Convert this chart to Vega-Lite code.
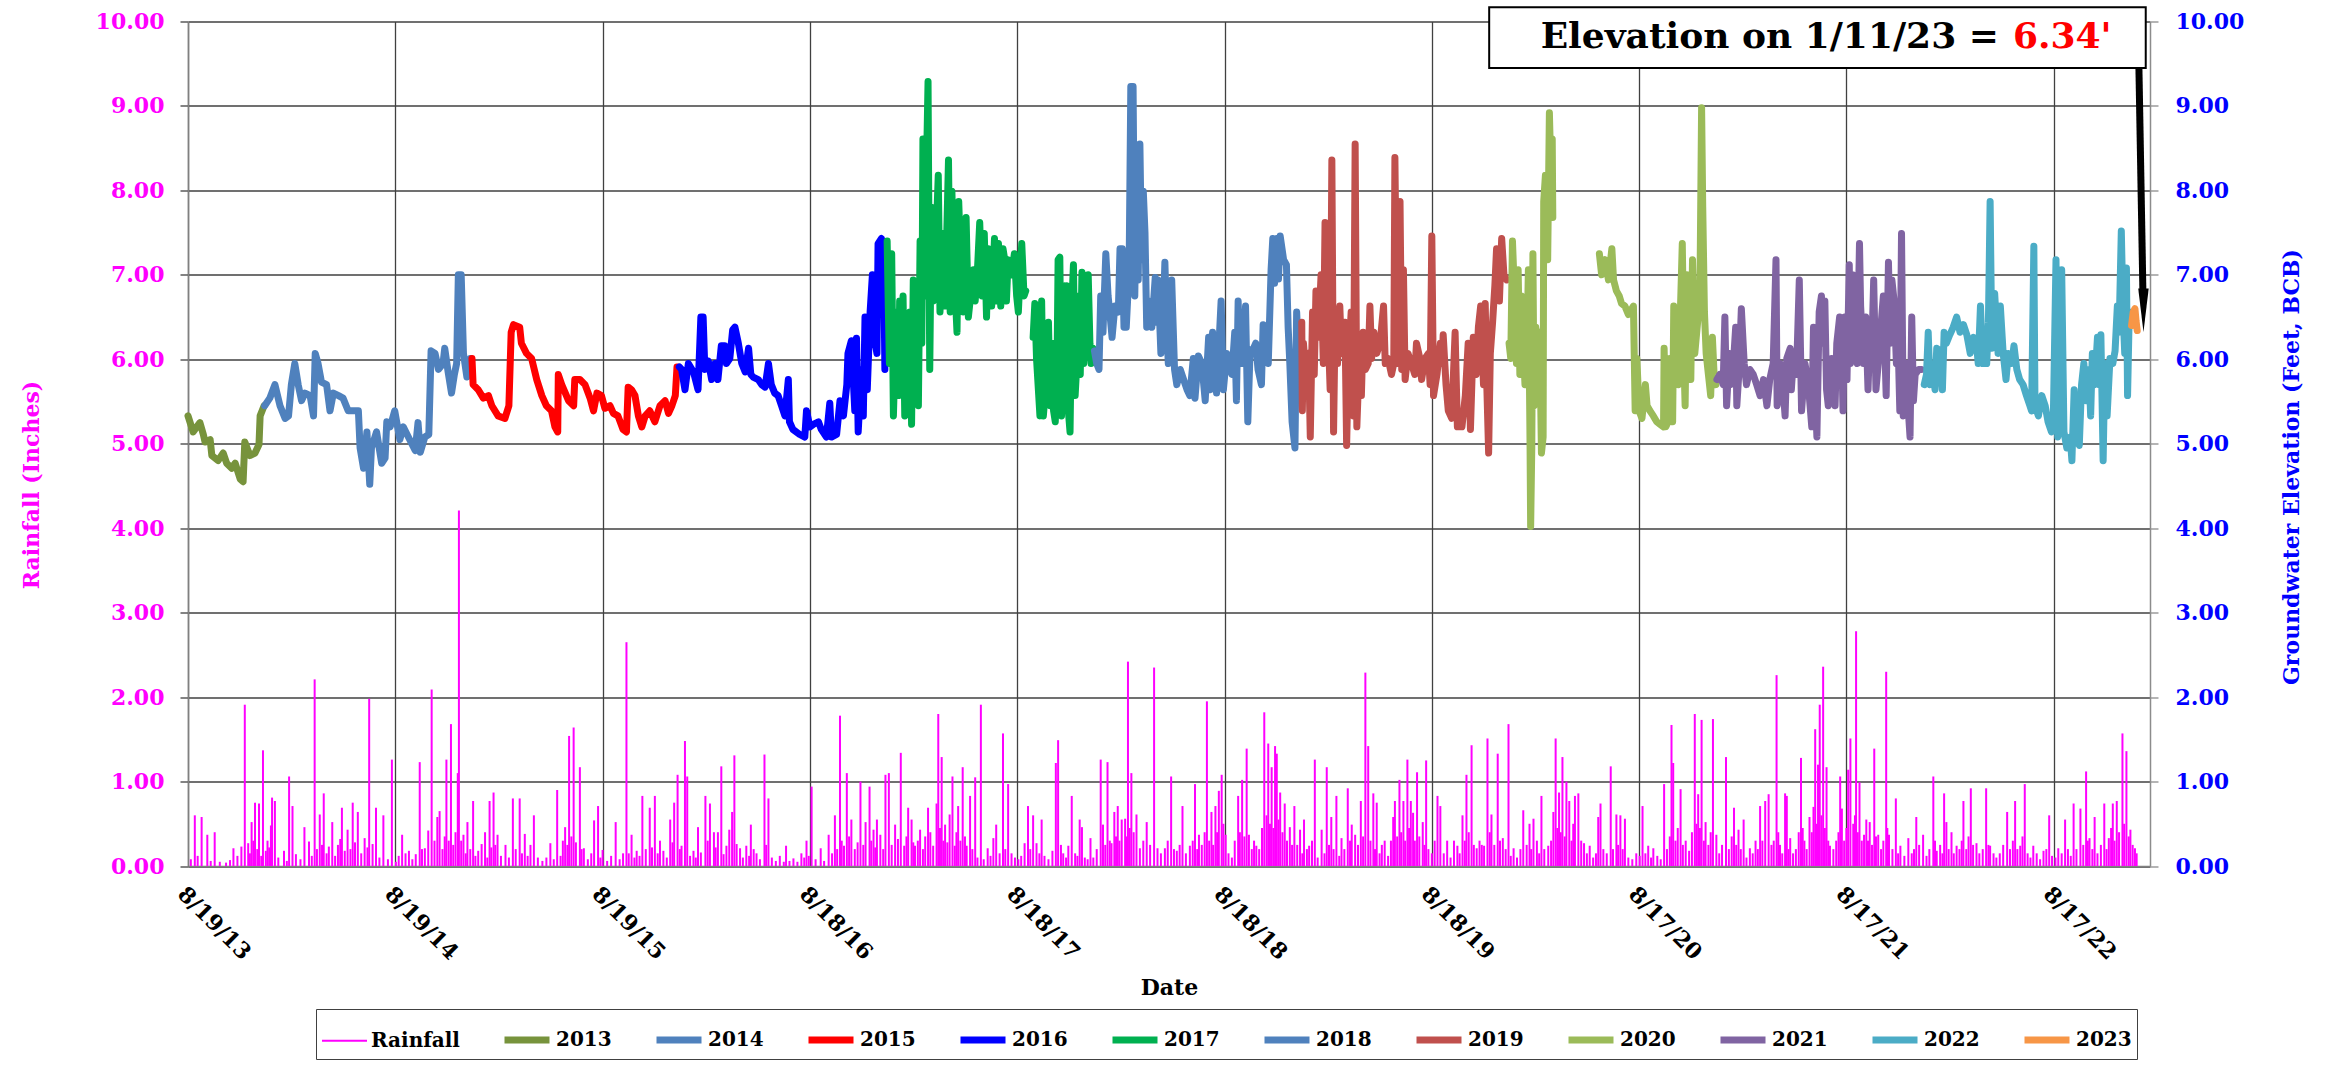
{
"$schema":"https://vega.github.io/schema/vega-lite/v6.json",
"width":1962,"height":844.5,
"autosize":"none",
"padding":{"left":188,"top":21.5,"right":177,"bottom":199},
"background":"white",
"config":{"view":{"stroke":null},"font":"DejaVu Serif",
"axis":{"labelFont":"DejaVu Serif","labelFontWeight":"bold","titleFont":"DejaVu Serif","titleFontWeight":"bold"},
"legend":{"symbolType":"stroke","symbolSize":2025,"labelFontSize":20,"labelFont":"DejaVu Serif","labelFontWeight":"bold","labelColor":"black","labelOffset":3,"columnPadding":30,"padding":5,"strokeColor":"#404040","fillColor":"white","symbolOpacity":1,"labelLimit":300}},
"datasets":{
"rain":[
{"d":"2013-08-24","r":0.08},{"d":"2013-08-31","r":0.6},{"d":"2013-09-05","r":0.12},{"d":"2013-09-12","r":0.58},{"d":"2013-09-22","r":0.37},{"d":"2013-09-28","r":0.06},{"d":"2013-10-05","r":0.4},{"d":"2013-10-14","r":0.05},{"d":"2013-10-25","r":0.04},{"d":"2013-11-01","r":0.07},{"d":"2013-11-07","r":0.21},{"d":"2013-11-14","r":0.12},{"d":"2013-11-21","r":0.23},{"d":"2013-11-27","r":1.91},{"d":"2013-12-03","r":0.27},{"d":"2013-12-06","r":0.15},{"d":"2013-12-09","r":0.52},{"d":"2013-12-12","r":0.3},{"d":"2013-12-15","r":0.75},{"d":"2013-12-19","r":0.2},{"d":"2013-12-22","r":0.74},{"d":"2013-12-26","r":0.12},{"d":"2013-12-29","r":1.37},
{"d":"2014-01-03","r":0.18},{"d":"2014-01-06","r":0.3},{"d":"2014-01-09","r":0.22},{"d":"2014-01-12","r":0.48},{"d":"2014-01-14","r":0.81},{"d":"2014-01-19","r":0.77},{"d":"2014-01-25","r":0.1},{"d":"2014-02-04","r":0.18},{"d":"2014-02-09","r":0.06},{"d":"2014-02-13","r":1.06},{"d":"2014-02-19","r":0.71},{"d":"2014-02-25","r":0.14},{"d":"2014-03-05","r":0.08},{"d":"2014-03-12","r":0.46},{"d":"2014-03-20","r":0.29},{"d":"2014-03-25","r":0.12},{"d":"2014-03-30","r":2.21},{"d":"2014-04-03","r":0.2},{"d":"2014-04-08","r":0.61},{"d":"2014-04-12","r":0.25},{"d":"2014-04-15","r":0.86},{"d":"2014-04-20","r":0.15},{"d":"2014-04-24","r":0.23},{"d":"2014-04-30","r":0.52},{"d":"2014-05-05","r":0.12},{"d":"2014-05-10","r":0.25},{"d":"2014-05-14","r":0.32},{"d":"2014-05-17","r":0.69},{"d":"2014-05-22","r":0.18},{"d":"2014-05-27","r":0.43},{"d":"2014-06-01","r":0.2},{"d":"2014-06-05","r":0.75},{"d":"2014-06-09","r":0.28},{"d":"2014-06-14","r":0.64},{"d":"2014-06-20","r":0.15},{"d":"2014-06-26","r":0.33},{"d":"2014-07-01","r":0.22},{"d":"2014-07-04","r":1.98},{"d":"2014-07-10","r":0.26},{"d":"2014-07-16","r":0.69},{"d":"2014-07-22","r":0.1},{"d":"2014-07-29","r":0.6},{"d":"2014-08-06","r":0.08},{"d":"2014-08-13","r":1.26},{"d":"2014-08-20","r":0.05},{"d":"2014-08-25","r":0.12},{"d":"2014-08-31","r":0.37},{"d":"2014-09-06","r":0.15},{"d":"2014-09-12","r":0.18},{"d":"2014-09-18","r":0.08},{"d":"2014-09-24","r":0.14},{"d":"2014-10-01","r":1.23},{"d":"2014-10-05","r":0.2},{"d":"2014-10-10","r":0.21},{"d":"2014-10-16","r":0.42},{"d":"2014-10-22","r":2.09},{"d":"2014-10-27","r":0.3},{"d":"2014-11-01","r":0.58},{"d":"2014-11-05","r":0.65},{"d":"2014-11-10","r":0.2},{"d":"2014-11-14","r":0.35},{"d":"2014-11-17","r":1.26},{"d":"2014-11-21","r":0.3},{"d":"2014-11-25","r":1.68},{"d":"2014-11-29","r":0.25},{"d":"2014-12-03","r":0.4},{"d":"2014-12-07","r":1.1},{"d":"2014-12-09","r":4.21},{"d":"2014-12-13","r":0.3},{"d":"2014-12-17","r":0.37},{"d":"2014-12-21","r":0.15},{"d":"2014-12-24","r":0.52},{"d":"2014-12-29","r":0.2},
{"d":"2015-01-03","r":0.77},{"d":"2015-01-07","r":0.12},{"d":"2015-01-12","r":0.18},{"d":"2015-01-18","r":0.26},{"d":"2015-01-24","r":0.4},{"d":"2015-01-28","r":0.1},{"d":"2015-02-01","r":0.77},{"d":"2015-02-04","r":0.22},{"d":"2015-02-08","r":0.87},{"d":"2015-02-11","r":0.25},{"d":"2015-02-15","r":0.37},{"d":"2015-02-21","r":0.12},{"d":"2015-03-01","r":0.25},{"d":"2015-03-07","r":0.1},{"d":"2015-03-14","r":0.8},{"d":"2015-03-19","r":0.2},{"d":"2015-03-26","r":0.8},{"d":"2015-03-30","r":0.15},{"d":"2015-04-04","r":0.38},{"d":"2015-04-09","r":0.12},{"d":"2015-04-14","r":0.25},{"d":"2015-04-20","r":0.6},{"d":"2015-04-27","r":0.1},{"d":"2015-05-05","r":0.06},{"d":"2015-05-12","r":0.1},{"d":"2015-05-19","r":0.27},{"d":"2015-05-25","r":0.08},{"d":"2015-05-31","r":0.9},{"d":"2015-06-06","r":0.12},{"d":"2015-06-10","r":0.3},{"d":"2015-06-14","r":0.46},{"d":"2015-06-18","r":0.25},{"d":"2015-06-21","r":1.54},{"d":"2015-06-25","r":0.35},{"d":"2015-06-29","r":1.64},{"d":"2015-07-03","r":0.28},{"d":"2015-07-10","r":1.17},{"d":"2015-07-13","r":0.2},{"d":"2015-07-17","r":0.21},{"d":"2015-07-24","r":0.08},{"d":"2015-07-30","r":0.15},{"d":"2015-08-04","r":0.54},{"d":"2015-08-11","r":0.71},{"d":"2015-08-15","r":0.1},{"d":"2015-08-19","r":0.19},{"d":"2015-08-27","r":0.06},{"d":"2015-09-03","r":0.12},{"d":"2015-09-11","r":0.52},{"d":"2015-09-18","r":0.08},{"d":"2015-09-24","r":0.15},{"d":"2015-09-30","r":2.65},{"d":"2015-10-04","r":0.15},{"d":"2015-10-09","r":0.37},{"d":"2015-10-14","r":0.1},{"d":"2015-10-18","r":0.18},{"d":"2015-10-23","r":0.12},{"d":"2015-10-28","r":0.83},{"d":"2015-11-03","r":0.2},{"d":"2015-11-10","r":0.69},{"d":"2015-11-14","r":0.22},{"d":"2015-11-19","r":0.83},{"d":"2015-11-24","r":0.15},{"d":"2015-11-28","r":0.3},{"d":"2015-12-04","r":0.18},{"d":"2015-12-10","r":0.1},{"d":"2015-12-16","r":0.55},{"d":"2015-12-20","r":0.28},{"d":"2015-12-23","r":0.75},{"d":"2015-12-29","r":1.08},
{"d":"2016-01-02","r":0.2},{"d":"2016-01-05","r":0.24},{"d":"2016-01-11","r":1.48},{"d":"2016-01-15","r":1.06},{"d":"2016-01-20","r":0.12},{"d":"2016-01-26","r":0.18},{"d":"2016-01-30","r":0.1},{"d":"2016-02-03","r":0.46},{"d":"2016-02-08","r":0.16},{"d":"2016-02-16","r":0.83},{"d":"2016-02-20","r":0.3},{"d":"2016-02-24","r":0.74},{"d":"2016-03-02","r":0.4},{"d":"2016-03-05","r":0.22},{"d":"2016-03-09","r":0.4},{"d":"2016-03-15","r":1.18},{"d":"2016-03-19","r":0.14},{"d":"2016-03-24","r":0.24},{"d":"2016-03-29","r":0.43},{"d":"2016-04-03","r":0.64},{"d":"2016-04-07","r":1.31},{"d":"2016-04-11","r":0.26},{"d":"2016-04-17","r":0.21},{"d":"2016-04-22","r":0.1},{"d":"2016-04-28","r":0.24},{"d":"2016-05-03","r":0.12},{"d":"2016-05-06","r":0.49},{"d":"2016-05-11","r":0.2},{"d":"2016-05-16","r":0.15},{"d":"2016-05-22","r":0.08},{"d":"2016-05-30","r":1.32},{"d":"2016-06-02","r":0.25},{"d":"2016-06-06","r":0.8},{"d":"2016-06-12","r":0.1},{"d":"2016-06-19","r":0.06},{"d":"2016-06-26","r":0.12},{"d":"2016-07-03","r":0.05},{"d":"2016-07-07","r":0.24},{"d":"2016-07-13","r":0.06},{"d":"2016-07-20","r":0.09},{"d":"2016-07-27","r":0.05},{"d":"2016-08-03","r":0.15},{"d":"2016-08-08","r":0.1},{"d":"2016-08-12","r":0.3},{"d":"2016-08-16","r":0.12},{"d":"2016-08-21","r":0.94},{"d":"2016-08-28","r":0.08},{"d":"2016-09-06","r":0.21},{"d":"2016-09-12","r":0.06},{"d":"2016-09-20","r":0.37},{"d":"2016-09-26","r":0.15},{"d":"2016-10-01","r":0.6},{"d":"2016-10-05","r":0.2},{"d":"2016-10-10","r":1.78},{"d":"2016-10-13","r":0.3},{"d":"2016-10-17","r":0.24},{"d":"2016-10-22","r":1.1},{"d":"2016-10-26","r":0.35},{"d":"2016-10-30","r":0.55},{"d":"2016-11-05","r":0.2},{"d":"2016-11-10","r":0.28},{"d":"2016-11-15","r":1.0},{"d":"2016-11-20","r":0.25},{"d":"2016-11-24","r":0.52},{"d":"2016-12-01","r":0.94},{"d":"2016-12-04","r":0.3},{"d":"2016-12-08","r":0.43},{"d":"2016-12-11","r":0.22},{"d":"2016-12-14","r":0.55},{"d":"2016-12-20","r":0.37},{"d":"2016-12-25","r":0.2},{"d":"2016-12-29","r":1.08},
{"d":"2017-01-04","r":1.1},{"d":"2017-01-09","r":0.25},{"d":"2017-01-15","r":0.49},{"d":"2017-01-20","r":0.32},{"d":"2017-01-25","r":1.34},{"d":"2017-01-31","r":0.24},{"d":"2017-02-04","r":0.35},{"d":"2017-02-07","r":0.69},{"d":"2017-02-13","r":0.55},{"d":"2017-02-16","r":0.28},{"d":"2017-02-19","r":0.24},{"d":"2017-02-24","r":0.3},{"d":"2017-02-28","r":0.43},{"d":"2017-03-05","r":0.2},{"d":"2017-03-09","r":0.35},{"d":"2017-03-14","r":0.69},{"d":"2017-03-18","r":0.4},{"d":"2017-03-23","r":0.24},{"d":"2017-03-29","r":0.74},{"d":"2017-04-01","r":1.8},{"d":"2017-04-04","r":0.45},{"d":"2017-04-07","r":1.29},{"d":"2017-04-10","r":0.3},{"d":"2017-04-13","r":0.49},{"d":"2017-04-17","r":0.28},{"d":"2017-04-21","r":0.61},{"d":"2017-04-26","r":1.06},{"d":"2017-04-30","r":0.24},{"d":"2017-05-03","r":0.4},{"d":"2017-05-06","r":0.71},{"d":"2017-05-10","r":0.3},{"d":"2017-05-14","r":1.17},{"d":"2017-05-18","r":0.35},{"d":"2017-05-21","r":0.24},{"d":"2017-05-27","r":0.83},{"d":"2017-05-31","r":0.2},{"d":"2017-06-05","r":1.05},{"d":"2017-06-09","r":0.1},{"d":"2017-06-15","r":1.91},{"d":"2017-06-20","r":0.08},{"d":"2017-06-27","r":0.21},{"d":"2017-07-02","r":0.12},{"d":"2017-07-07","r":0.33},{"d":"2017-07-12","r":0.49},{"d":"2017-07-18","r":0.15},{"d":"2017-07-24","r":1.57},{"d":"2017-07-28","r":0.2},{"d":"2017-08-02","r":0.97},{"d":"2017-08-08","r":0.15},{"d":"2017-08-14","r":0.1},{"d":"2017-08-20","r":0.08},{"d":"2017-08-25","r":0.12},{"d":"2017-08-31","r":0.27},{"d":"2017-09-06","r":0.71},{"d":"2017-09-10","r":0.2},{"d":"2017-09-15","r":0.6},{"d":"2017-09-21","r":0.27},{"d":"2017-09-26","r":0.15},{"d":"2017-09-30","r":0.55},{"d":"2017-10-05","r":0.12},{"d":"2017-10-12","r":0.08},{"d":"2017-10-19","r":0.18},{"d":"2017-10-25","r":1.22},{"d":"2017-10-29","r":1.49},{"d":"2017-11-03","r":0.25},{"d":"2017-11-07","r":0.15},{"d":"2017-11-12","r":0.1},{"d":"2017-11-16","r":0.24},{"d":"2017-11-22","r":0.83},{"d":"2017-11-28","r":0.15},{"d":"2017-12-02","r":0.12},{"d":"2017-12-06","r":0.55},{"d":"2017-12-10","r":0.46},{"d":"2017-12-15","r":0.1},{"d":"2017-12-20","r":0.08},{"d":"2017-12-25","r":0.33},{"d":"2017-12-30","r":0.1},
{"d":"2018-01-05","r":0.2},{"d":"2018-01-12","r":1.26},{"d":"2018-01-16","r":0.49},{"d":"2018-01-20","r":0.25},{"d":"2018-01-24","r":1.23},{"d":"2018-01-28","r":0.3},{"d":"2018-01-31","r":0.27},{"d":"2018-02-05","r":0.64},{"d":"2018-02-08","r":0.35},{"d":"2018-02-11","r":0.71},{"d":"2018-02-14","r":0.3},{"d":"2018-02-18","r":0.55},{"d":"2018-02-24","r":0.56},{"d":"2018-02-27","r":0.35},{"d":"2018-03-01","r":2.42},{"d":"2018-03-04","r":0.45},{"d":"2018-03-07","r":1.1},{"d":"2018-03-11","r":0.4},{"d":"2018-03-16","r":0.61},{"d":"2018-03-22","r":0.21},{"d":"2018-03-28","r":0.3},{"d":"2018-04-03","r":0.52},{"d":"2018-04-09","r":0.25},{"d":"2018-04-16","r":2.35},{"d":"2018-04-22","r":0.21},{"d":"2018-04-28","r":0.15},{"d":"2018-05-05","r":0.21},{"d":"2018-05-10","r":0.3},{"d":"2018-05-16","r":1.06},{"d":"2018-05-21","r":0.2},{"d":"2018-05-26","r":0.18},{"d":"2018-05-31","r":0.25},{"d":"2018-06-05","r":0.71},{"d":"2018-06-11","r":0.15},{"d":"2018-06-18","r":0.24},{"d":"2018-06-23","r":0.3},{"d":"2018-06-27","r":0.97},{"d":"2018-07-01","r":0.2},{"d":"2018-07-04","r":0.37},{"d":"2018-07-09","r":0.25},{"d":"2018-07-14","r":0.4},{"d":"2018-07-18","r":1.95},{"d":"2018-07-22","r":0.3},{"d":"2018-07-26","r":0.64},{"d":"2018-07-29","r":0.25},{"d":"2018-08-02","r":0.71},{"d":"2018-08-05","r":0.4},{"d":"2018-08-08","r":0.89},{"d":"2018-08-13","r":1.08},{"d":"2018-08-16","r":0.5},{"d":"2018-08-20","r":0.37},{"d":"2018-08-25","r":0.15},{"d":"2018-08-31","r":0.1},{"d":"2018-09-05","r":0.3},{"d":"2018-09-11","r":0.83},{"d":"2018-09-14","r":0.4},{"d":"2018-09-18","r":1.02},{"d":"2018-09-22","r":0.35},{"d":"2018-09-26","r":1.39},{"d":"2018-09-30","r":0.37},{"d":"2018-10-05","r":0.2},{"d":"2018-10-09","r":0.3},{"d":"2018-10-13","r":0.24},{"d":"2018-10-18","r":0.2},{"d":"2018-10-23","r":0.45},{"d":"2018-10-27","r":1.82},{"d":"2018-10-31","r":0.6},{"d":"2018-11-03","r":1.45},{"d":"2018-11-06","r":0.5},{"d":"2018-11-09","r":1.17},{"d":"2018-11-12","r":0.45},{"d":"2018-11-15","r":1.42},{"d":"2018-11-18","r":1.33},{"d":"2018-11-21","r":0.55},{"d":"2018-11-24","r":0.87},{"d":"2018-11-28","r":0.4},{"d":"2018-12-02","r":0.74},{"d":"2018-12-06","r":0.3},{"d":"2018-12-11","r":0.46},{"d":"2018-12-15","r":0.25},{"d":"2018-12-19","r":0.71},{"d":"2018-12-24","r":0.25},{"d":"2018-12-29","r":0.43},
{"d":"2019-01-02","r":0.15},{"d":"2019-01-05","r":0.55},{"d":"2019-01-10","r":0.2},{"d":"2019-01-14","r":0.24},{"d":"2019-01-19","r":0.3},{"d":"2019-01-24","r":1.26},{"d":"2019-01-29","r":0.1},{"d":"2019-02-05","r":0.43},{"d":"2019-02-10","r":0.15},{"d":"2019-02-14","r":1.17},{"d":"2019-02-18","r":0.25},{"d":"2019-02-22","r":0.58},{"d":"2019-02-26","r":0.2},{"d":"2019-03-03","r":0.83},{"d":"2019-03-08","r":0.12},{"d":"2019-03-12","r":0.33},{"d":"2019-03-17","r":0.2},{"d":"2019-03-23","r":0.92},{"d":"2019-03-27","r":0.3},{"d":"2019-03-30","r":0.49},{"d":"2019-04-05","r":0.37},{"d":"2019-04-10","r":0.25},{"d":"2019-04-15","r":0.77},{"d":"2019-04-19","r":0.35},{"d":"2019-04-23","r":2.29},{"d":"2019-04-28","r":1.42},{"d":"2019-05-02","r":0.3},{"d":"2019-05-07","r":0.86},{"d":"2019-05-10","r":0.2},{"d":"2019-05-13","r":0.75},{"d":"2019-05-18","r":0.15},{"d":"2019-05-22","r":0.25},{"d":"2019-05-27","r":0.3},{"d":"2019-06-02","r":0.12},{"d":"2019-06-07","r":0.3},{"d":"2019-06-11","r":0.58},{"d":"2019-06-14","r":0.77},{"d":"2019-06-18","r":0.35},{"d":"2019-06-22","r":1.02},{"d":"2019-06-25","r":0.4},{"d":"2019-06-29","r":0.77},{"d":"2019-07-02","r":0.3},{"d":"2019-07-06","r":1.26},{"d":"2019-07-09","r":0.45},{"d":"2019-07-12","r":0.77},{"d":"2019-07-16","r":0.63},{"d":"2019-07-19","r":0.3},{"d":"2019-07-23","r":1.11},{"d":"2019-07-27","r":0.35},{"d":"2019-08-02","r":0.52},{"d":"2019-08-05","r":0.25},{"d":"2019-08-08","r":1.25},{"d":"2019-08-12","r":0.2},{"d":"2019-08-18","r":0.15},{"d":"2019-08-23","r":0.3},{"d":"2019-08-28","r":0.83},{"d":"2019-09-02","r":0.71},{"d":"2019-09-08","r":0.15},{"d":"2019-09-14","r":0.3},{"d":"2019-09-20","r":0.1},{"d":"2019-09-26","r":0.3},{"d":"2019-10-02","r":0.24},{"d":"2019-10-06","r":0.15},{"d":"2019-10-11","r":0.6},{"d":"2019-10-15","r":0.3},{"d":"2019-10-18","r":1.08},{"d":"2019-10-22","r":0.4},{"d":"2019-10-27","r":1.43},{"d":"2019-10-31","r":0.25},{"d":"2019-11-05","r":0.21},{"d":"2019-11-10","r":0.3},{"d":"2019-11-14","r":0.25},{"d":"2019-11-18","r":0.24},{"d":"2019-11-24","r":1.51},{"d":"2019-11-28","r":0.4},{"d":"2019-12-01","r":0.61},{"d":"2019-12-06","r":0.25},{"d":"2019-12-12","r":1.33},{"d":"2019-12-16","r":0.3},{"d":"2019-12-21","r":0.33},{"d":"2019-12-26","r":0.2},{"d":"2019-12-31","r":1.68},
{"d":"2020-01-04","r":0.12},{"d":"2020-01-09","r":0.21},{"d":"2020-01-15","r":0.1},{"d":"2020-01-21","r":0.2},{"d":"2020-01-26","r":0.66},{"d":"2020-02-01","r":0.25},{"d":"2020-02-06","r":0.5},{"d":"2020-02-09","r":0.2},{"d":"2020-02-13","r":0.56},{"d":"2020-02-19","r":0.3},{"d":"2020-02-23","r":0.15},{"d":"2020-02-27","r":0.83},{"d":"2020-03-03","r":0.2},{"d":"2020-03-10","r":0.24},{"d":"2020-03-15","r":0.3},{"d":"2020-03-19","r":0.64},{"d":"2020-03-23","r":1.51},{"d":"2020-03-26","r":0.45},{"d":"2020-03-29","r":0.87},{"d":"2020-04-01","r":0.4},{"d":"2020-04-04","r":1.29},{"d":"2020-04-08","r":0.35},{"d":"2020-04-11","r":1.0},{"d":"2020-04-16","r":0.77},{"d":"2020-04-20","r":0.3},{"d":"2020-04-23","r":0.5},{"d":"2020-04-26","r":0.83},{"d":"2020-05-02","r":0.86},{"d":"2020-05-07","r":0.3},{"d":"2020-05-12","r":0.27},{"d":"2020-05-17","r":0.15},{"d":"2020-05-22","r":0.24},{"d":"2020-05-28","r":0.1},{"d":"2020-06-02","r":0.15},{"d":"2020-06-06","r":0.58},{"d":"2020-06-10","r":0.74},{"d":"2020-06-15","r":0.2},{"d":"2020-06-21","r":0.15},{"d":"2020-06-28","r":1.18},{"d":"2020-07-02","r":0.2},{"d":"2020-07-08","r":0.61},{"d":"2020-07-11","r":0.25},{"d":"2020-07-15","r":0.6},{"d":"2020-07-19","r":0.2},{"d":"2020-07-23","r":0.56},{"d":"2020-07-29","r":0.1},{"d":"2020-08-05","r":0.08},{"d":"2020-08-12","r":0.15},{"d":"2020-08-18","r":0.12},{"d":"2020-08-23","r":0.71},{"d":"2020-08-28","r":0.15},{"d":"2020-09-02","r":0.24},{"d":"2020-09-07","r":0.1},{"d":"2020-09-11","r":0.21},{"d":"2020-09-18","r":0.12},{"d":"2020-09-24","r":0.08},{"d":"2020-09-30","r":0.97},{"d":"2020-10-05","r":0.2},{"d":"2020-10-10","r":0.35},{"d":"2020-10-13","r":1.67},{"d":"2020-10-16","r":1.22},{"d":"2020-10-20","r":0.3},{"d":"2020-10-24","r":0.45},{"d":"2020-10-29","r":0.91},{"d":"2020-11-02","r":0.25},{"d":"2020-11-07","r":0.3},{"d":"2020-11-13","r":0.18},{"d":"2020-11-18","r":0.4},{"d":"2020-11-23","r":1.8},{"d":"2020-11-26","r":0.5},{"d":"2020-11-29","r":0.85},{"d":"2020-12-02","r":0.45},{"d":"2020-12-05","r":1.73},{"d":"2020-12-09","r":0.3},{"d":"2020-12-12","r":0.52},{"d":"2020-12-17","r":0.25},{"d":"2020-12-21","r":0.4},{"d":"2020-12-25","r":1.74},{"d":"2020-12-31","r":0.37},
{"d":"2021-01-05","r":0.15},{"d":"2021-01-10","r":0.25},{"d":"2021-01-17","r":1.29},{"d":"2021-01-22","r":0.2},{"d":"2021-01-27","r":0.35},{"d":"2021-01-31","r":0.69},{"d":"2021-02-04","r":0.25},{"d":"2021-02-08","r":0.43},{"d":"2021-02-12","r":0.2},{"d":"2021-02-17","r":0.55},{"d":"2021-02-22","r":0.1},{"d":"2021-02-28","r":0.21},{"d":"2021-03-05","r":0.15},{"d":"2021-03-10","r":0.3},{"d":"2021-03-14","r":0.2},{"d":"2021-03-18","r":0.71},{"d":"2021-03-22","r":0.3},{"d":"2021-03-27","r":0.77},{"d":"2021-04-02","r":0.85},{"d":"2021-04-07","r":0.25},{"d":"2021-04-11","r":0.3},{"d":"2021-04-16","r":2.26},{"d":"2021-04-19","r":0.4},{"d":"2021-04-22","r":0.25},{"d":"2021-04-26","r":0.15},{"d":"2021-05-01","r":0.86},{"d":"2021-05-04","r":0.83},{"d":"2021-05-07","r":0.2},{"d":"2021-05-10","r":0.33},{"d":"2021-05-15","r":0.15},{"d":"2021-05-20","r":0.2},{"d":"2021-05-25","r":0.4},{"d":"2021-05-29","r":1.28},{"d":"2021-06-01","r":0.45},{"d":"2021-06-04","r":0.3},{"d":"2021-06-08","r":0.2},{"d":"2021-06-13","r":0.58},{"d":"2021-06-17","r":0.4},{"d":"2021-06-20","r":0.7},{"d":"2021-06-23","r":1.62},{"d":"2021-06-26","r":0.5},{"d":"2021-06-28","r":1.2},{"d":"2021-07-01","r":1.91},{"d":"2021-07-04","r":0.6},{"d":"2021-07-07","r":2.36},{"d":"2021-07-10","r":0.45},{"d":"2021-07-13","r":1.17},{"d":"2021-07-16","r":0.3},{"d":"2021-07-19","r":0.24},{"d":"2021-07-25","r":0.2},{"d":"2021-07-30","r":0.3},{"d":"2021-08-03","r":0.4},{"d":"2021-08-06","r":1.06},{"d":"2021-08-09","r":0.68},{"d":"2021-08-13","r":0.3},{"d":"2021-08-17","r":0.45},{"d":"2021-08-20","r":1.14},{"d":"2021-08-24","r":1.51},{"d":"2021-08-29","r":0.5},{"d":"2021-09-01","r":0.6},{"d":"2021-09-03","r":2.78},{"d":"2021-09-06","r":0.4},{"d":"2021-09-09","r":0.99},{"d":"2021-09-13","r":0.3},{"d":"2021-09-17","r":0.37},{"d":"2021-09-21","r":0.55},{"d":"2021-09-24","r":0.3},{"d":"2021-09-27","r":0.52},{"d":"2021-10-01","r":0.25},{"d":"2021-10-05","r":1.39},{"d":"2021-10-08","r":0.35},{"d":"2021-10-12","r":0.37},{"d":"2021-10-17","r":0.2},{"d":"2021-10-21","r":0.3},{"d":"2021-10-26","r":2.3},{"d":"2021-10-28","r":0.45},{"d":"2021-10-31","r":0.37},{"d":"2021-11-06","r":0.2},{"d":"2021-11-12","r":0.8},{"d":"2021-11-16","r":0.15},{"d":"2021-11-20","r":0.24},{"d":"2021-11-27","r":0.12},{"d":"2021-12-04","r":0.33},{"d":"2021-12-10","r":0.15},{"d":"2021-12-14","r":0.2},{"d":"2021-12-18","r":0.58},{"d":"2021-12-23","r":0.25},{"d":"2021-12-30","r":0.37},
{"d":"2022-01-05","r":0.12},{"d":"2022-01-10","r":0.2},{"d":"2022-01-17","r":1.06},{"d":"2022-01-20","r":0.3},{"d":"2022-01-23","r":0.18},{"d":"2022-01-29","r":0.25},{"d":"2022-02-02","r":0.15},{"d":"2022-02-05","r":0.86},{"d":"2022-02-09","r":0.52},{"d":"2022-02-13","r":0.2},{"d":"2022-02-18","r":0.4},{"d":"2022-02-22","r":0.15},{"d":"2022-02-27","r":0.24},{"d":"2022-03-04","r":0.2},{"d":"2022-03-08","r":0.3},{"d":"2022-03-11","r":0.77},{"d":"2022-03-16","r":0.2},{"d":"2022-03-20","r":0.35},{"d":"2022-03-24","r":0.92},{"d":"2022-03-28","r":0.25},{"d":"2022-04-03","r":0.27},{"d":"2022-04-08","r":0.15},{"d":"2022-04-14","r":0.2},{"d":"2022-04-20","r":0.92},{"d":"2022-04-24","r":0.25},{"d":"2022-04-27","r":0.24},{"d":"2022-05-03","r":0.15},{"d":"2022-05-08","r":0.1},{"d":"2022-05-14","r":0.15},{"d":"2022-05-20","r":0.25},{"d":"2022-05-27","r":0.64},{"d":"2022-06-01","r":0.2},{"d":"2022-06-06","r":0.3},{"d":"2022-06-10","r":0.77},{"d":"2022-06-14","r":0.2},{"d":"2022-06-19","r":0.24},{"d":"2022-06-23","r":0.35},{"d":"2022-06-27","r":0.97},{"d":"2022-07-02","r":0.15},{"d":"2022-07-07","r":0.1},{"d":"2022-07-12","r":0.24},{"d":"2022-07-18","r":0.15},{"d":"2022-07-24","r":0.08},{"d":"2022-07-30","r":0.18},{"d":"2022-08-04","r":0.2},{"d":"2022-08-09","r":0.6},{"d":"2022-08-14","r":0.12},{"d":"2022-08-20","r":0.1},{"d":"2022-08-25","r":0.21},{"d":"2022-08-31","r":0.15},{"d":"2022-09-06","r":0.55},{"d":"2022-09-11","r":0.2},{"d":"2022-09-16","r":0.12},{"d":"2022-09-21","r":0.74},{"d":"2022-09-26","r":0.2},{"d":"2022-10-03","r":0.68},{"d":"2022-10-08","r":0.25},{"d":"2022-10-13","r":1.12},{"d":"2022-10-16","r":0.3},{"d":"2022-10-19","r":0.33},{"d":"2022-10-24","r":0.2},{"d":"2022-10-28","r":0.58},{"d":"2022-11-02","r":0.15},{"d":"2022-11-08","r":0.25},{"d":"2022-11-14","r":0.74},{"d":"2022-11-18","r":0.2},{"d":"2022-11-22","r":0.33},{"d":"2022-11-26","r":0.45},{"d":"2022-11-29","r":0.74},{"d":"2022-12-02","r":0.3},{"d":"2022-12-06","r":0.77},{"d":"2022-12-10","r":0.4},{"d":"2022-12-16","r":1.57},{"d":"2022-12-19","r":0.5},{"d":"2022-12-23","r":1.36},{"d":"2022-12-27","r":0.35},{"d":"2022-12-30","r":0.43},{"d":"2023-01-03","r":0.25},{"d":"2023-01-07","r":0.21},{"d":"2023-01-10","r":0.15}
],
"gw":[
{"d":"2013-08-19","s":"2013","v":5.33},{"d":"2013-08-28","s":"2013","v":5.14},{"d":"2013-09-09","s":"2013","v":5.25},{"d":"2013-09-15","s":"2013","v":5.11},{"d":"2013-09-18","s":"2013","v":5.02},{"d":"2013-09-27","s":"2013","v":5.05},{"d":"2013-09-30","s":"2013","v":4.86},{"d":"2013-10-11","s":"2013","v":4.8},{"d":"2013-10-20","s":"2013","v":4.89},{"d":"2013-10-26","s":"2013","v":4.77},{"d":"2013-11-04","s":"2013","v":4.71},{"d":"2013-11-10","s":"2013","v":4.77},{"d":"2013-11-19","s":"2013","v":4.58},{"d":"2013-11-24","s":"2013","v":4.55},{"d":"2013-11-27","s":"2013","v":5.02},{"d":"2013-12-06","s":"2013","v":4.86},{"d":"2013-12-15","s":"2013","v":4.89},{"d":"2013-12-22","s":"2013","v":4.99},{"d":"2013-12-24","s":"2013","v":5.33},{"d":"2013-12-31","s":"2013","v":5.45},
{"d":"2014-01-01","s":"2014","v":5.45},{"d":"2014-01-10","s":"2014","v":5.54},{"d":"2014-01-19","s":"2014","v":5.7},{"d":"2014-01-28","s":"2014","v":5.45},{"d":"2014-02-06","s":"2014","v":5.3},{"d":"2014-02-12","s":"2014","v":5.33},{"d":"2014-02-17","s":"2014","v":5.7},{"d":"2014-02-23","s":"2014","v":5.95},{"d":"2014-03-01","s":"2014","v":5.7},{"d":"2014-03-07","s":"2014","v":5.51},{"d":"2014-03-13","s":"2014","v":5.6},{"d":"2014-03-22","s":"2014","v":5.57},{"d":"2014-03-28","s":"2014","v":5.33},{"d":"2014-03-31","s":"2014","v":6.07},{"d":"2014-04-05","s":"2014","v":5.95},{"d":"2014-04-11","s":"2014","v":5.73},{"d":"2014-04-20","s":"2014","v":5.7},{"d":"2014-04-26","s":"2014","v":5.39},{"d":"2014-05-02","s":"2014","v":5.6},{"d":"2014-05-11","s":"2014","v":5.57},{"d":"2014-05-19","s":"2014","v":5.54},{"d":"2014-05-28","s":"2014","v":5.39},{"d":"2014-06-06","s":"2014","v":5.39},{"d":"2014-06-15","s":"2014","v":5.39},{"d":"2014-06-18","s":"2014","v":4.95},{"d":"2014-06-24","s":"2014","v":4.71},{"d":"2014-06-30","s":"2014","v":5.14},{"d":"2014-07-05","s":"2014","v":4.52},{"d":"2014-07-08","s":"2014","v":4.95},{"d":"2014-07-17","s":"2014","v":5.14},{"d":"2014-07-26","s":"2014","v":4.77},{"d":"2014-08-01","s":"2014","v":4.83},{"d":"2014-08-04","s":"2014","v":5.26},{"d":"2014-08-10","s":"2014","v":5.2},{"d":"2014-08-18","s":"2014","v":5.39},{"d":"2014-08-27","s":"2014","v":5.05},{"d":"2014-09-02","s":"2014","v":5.2},{"d":"2014-09-11","s":"2014","v":5.08},{"d":"2014-09-23","s":"2014","v":4.92},{"d":"2014-09-28","s":"2014","v":5.25},{"d":"2014-10-02","s":"2014","v":4.9},{"d":"2014-10-10","s":"2014","v":5.08},{"d":"2014-10-17","s":"2014","v":5.11},{"d":"2014-10-21","s":"2014","v":6.1},{"d":"2014-10-28","s":"2014","v":6.07},{"d":"2014-11-03","s":"2014","v":5.88},{"d":"2014-11-11","s":"2014","v":5.95},{"d":"2014-11-14","s":"2014","v":6.13},{"d":"2014-11-20","s":"2014","v":5.85},{"d":"2014-11-26","s":"2014","v":5.6},{"d":"2014-12-01","s":"2014","v":5.82},{"d":"2014-12-05","s":"2014","v":5.95},{"d":"2014-12-08","s":"2014","v":7.0},{"d":"2014-12-13","s":"2014","v":7.0},{"d":"2014-12-17","s":"2014","v":6.07},{"d":"2014-12-23","s":"2014","v":5.79},{"d":"2014-12-29","s":"2014","v":6.01},
{"d":"2015-01-01","s":"2015","v":6.01},{"d":"2015-01-03","s":"2015","v":5.7},{"d":"2015-01-12","s":"2015","v":5.64},{"d":"2015-01-21","s":"2015","v":5.54},{"d":"2015-01-30","s":"2015","v":5.57},{"d":"2015-02-05","s":"2015","v":5.45},{"d":"2015-02-16","s":"2015","v":5.33},{"d":"2015-02-28","s":"2015","v":5.3},{"d":"2015-03-07","s":"2015","v":5.45},{"d":"2015-03-11","s":"2015","v":6.32},{"d":"2015-03-15","s":"2015","v":6.41},{"d":"2015-03-26","s":"2015","v":6.38},{"d":"2015-03-29","s":"2015","v":6.19},{"d":"2015-04-07","s":"2015","v":6.07},{"d":"2015-04-16","s":"2015","v":6.01},{"d":"2015-04-25","s":"2015","v":5.76},{"d":"2015-05-04","s":"2015","v":5.57},{"d":"2015-05-12","s":"2015","v":5.45},{"d":"2015-05-21","s":"2015","v":5.39},{"d":"2015-05-27","s":"2015","v":5.2},{"d":"2015-06-01","s":"2015","v":5.14},{"d":"2015-06-02","s":"2015","v":5.82},{"d":"2015-06-08","s":"2015","v":5.7},{"d":"2015-06-20","s":"2015","v":5.51},{"d":"2015-06-29","s":"2015","v":5.45},{"d":"2015-07-01","s":"2015","v":5.76},{"d":"2015-07-10","s":"2015","v":5.76},{"d":"2015-07-19","s":"2015","v":5.7},{"d":"2015-07-28","s":"2015","v":5.54},{"d":"2015-08-03","s":"2015","v":5.39},{"d":"2015-08-09","s":"2015","v":5.6},{"d":"2015-08-17","s":"2015","v":5.57},{"d":"2015-08-23","s":"2015","v":5.42},{"d":"2015-09-01","s":"2015","v":5.45},{"d":"2015-09-07","s":"2015","v":5.36},{"d":"2015-09-15","s":"2015","v":5.33},{"d":"2015-09-24","s":"2015","v":5.17},{"d":"2015-09-30","s":"2015","v":5.14},{"d":"2015-10-03","s":"2015","v":5.67},{"d":"2015-10-09","s":"2015","v":5.64},{"d":"2015-10-15","s":"2015","v":5.57},{"d":"2015-10-21","s":"2015","v":5.33},{"d":"2015-10-27","s":"2015","v":5.2},{"d":"2015-11-02","s":"2015","v":5.33},{"d":"2015-11-10","s":"2015","v":5.39},{"d":"2015-11-19","s":"2015","v":5.26},{"d":"2015-11-28","s":"2015","v":5.45},{"d":"2015-12-07","s":"2015","v":5.51},{"d":"2015-12-13","s":"2015","v":5.36},{"d":"2015-12-19","s":"2015","v":5.45},{"d":"2015-12-25","s":"2015","v":5.57},{"d":"2015-12-28","s":"2015","v":5.91},
{"d":"2016-01-01","s":"2016","v":5.91},{"d":"2016-01-05","s":"2016","v":5.88},{"d":"2016-01-11","s":"2016","v":5.64},{"d":"2016-01-17","s":"2016","v":5.95},{"d":"2016-01-26","s":"2016","v":5.85},{"d":"2016-02-03","s":"2016","v":5.64},{"d":"2016-02-08","s":"2016","v":6.5},{"d":"2016-02-12","s":"2016","v":6.5},{"d":"2016-02-15","s":"2016","v":5.88},{"d":"2016-02-21","s":"2016","v":5.98},{"d":"2016-02-27","s":"2016","v":5.76},{"d":"2016-03-04","s":"2016","v":5.95},{"d":"2016-03-09","s":"2016","v":5.76},{"d":"2016-03-15","s":"2016","v":6.16},{"d":"2016-03-21","s":"2016","v":6.16},{"d":"2016-03-24","s":"2016","v":5.95},{"d":"2016-03-30","s":"2016","v":6.01},{"d":"2016-04-04","s":"2016","v":6.35},{"d":"2016-04-08","s":"2016","v":6.38},{"d":"2016-04-14","s":"2016","v":6.19},{"d":"2016-04-20","s":"2016","v":5.95},{"d":"2016-04-26","s":"2016","v":5.85},{"d":"2016-05-02","s":"2016","v":6.13},{"d":"2016-05-06","s":"2016","v":5.82},{"d":"2016-05-10","s":"2016","v":5.79},{"d":"2016-05-19","s":"2016","v":5.76},{"d":"2016-05-25","s":"2016","v":5.7},{"d":"2016-05-31","s":"2016","v":5.67},{"d":"2016-06-06","s":"2016","v":5.95},{"d":"2016-06-11","s":"2016","v":5.7},{"d":"2016-06-17","s":"2016","v":5.6},{"d":"2016-06-23","s":"2016","v":5.57},{"d":"2016-06-29","s":"2016","v":5.45},{"d":"2016-07-05","s":"2016","v":5.33},{"d":"2016-07-11","s":"2016","v":5.76},{"d":"2016-07-13","s":"2016","v":5.26},{"d":"2016-07-19","s":"2016","v":5.17},{"d":"2016-07-31","s":"2016","v":5.11},{"d":"2016-08-09","s":"2016","v":5.08},{"d":"2016-08-12","s":"2016","v":5.39},{"d":"2016-08-18","s":"2016","v":5.2},{"d":"2016-08-24","s":"2016","v":5.23},{"d":"2016-09-02","s":"2016","v":5.26},{"d":"2016-09-07","s":"2016","v":5.17},{"d":"2016-09-16","s":"2016","v":5.08},{"d":"2016-09-22","s":"2016","v":5.48},{"d":"2016-09-25","s":"2016","v":5.08},{"d":"2016-10-04","s":"2016","v":5.11},{"d":"2016-10-10","s":"2016","v":5.51},{"d":"2016-10-16","s":"2016","v":5.33},{"d":"2016-10-22","s":"2016","v":5.7},{"d":"2016-10-24","s":"2016","v":6.07},{"d":"2016-10-30","s":"2016","v":6.22},{"d":"2016-11-05","s":"2016","v":5.39},{"d":"2016-11-08","s":"2016","v":6.25},{"d":"2016-11-11","s":"2016","v":5.14},{"d":"2016-11-17","s":"2016","v":5.88},{"d":"2016-11-20","s":"2016","v":5.33},{"d":"2016-11-23","s":"2016","v":6.5},{"d":"2016-11-27","s":"2016","v":5.64},{"d":"2016-12-02","s":"2016","v":6.56},{"d":"2016-12-06","s":"2016","v":7.0},{"d":"2016-12-11","s":"2016","v":6.19},{"d":"2016-12-14","s":"2016","v":6.07},{"d":"2016-12-16","s":"2016","v":7.37},{"d":"2016-12-22","s":"2016","v":7.43},{"d":"2016-12-26","s":"2016","v":7.12},{"d":"2016-12-28","s":"2016","v":5.88},
{"d":"2017-01-01","s":"2017","v":7.4},{"d":"2017-01-03","s":"2017","v":6.63},{"d":"2017-01-05","s":"2017","v":5.95},{"d":"2017-01-09","s":"2017","v":7.25},{"d":"2017-01-12","s":"2017","v":5.33},{"d":"2017-01-15","s":"2017","v":6.07},{"d":"2017-01-18","s":"2017","v":6.56},{"d":"2017-01-21","s":"2017","v":5.57},{"d":"2017-01-23","s":"2017","v":6.69},{"d":"2017-01-26","s":"2017","v":5.7},{"d":"2017-01-29","s":"2017","v":6.75},{"d":"2017-02-01","s":"2017","v":5.33},{"d":"2017-02-04","s":"2017","v":6.44},{"d":"2017-02-07","s":"2017","v":5.39},{"d":"2017-02-10","s":"2017","v":6.56},{"d":"2017-02-13","s":"2017","v":5.23},{"d":"2017-02-16","s":"2017","v":6.94},{"d":"2017-02-19","s":"2017","v":5.57},{"d":"2017-02-22","s":"2017","v":6.56},{"d":"2017-02-25","s":"2017","v":5.45},{"d":"2017-02-28","s":"2017","v":7.4},{"d":"2017-03-03","s":"2017","v":6.19},{"d":"2017-03-05","s":"2017","v":8.61},{"d":"2017-03-08","s":"2017","v":6.75},{"d":"2017-03-11","s":"2017","v":8.18},{"d":"2017-03-14","s":"2017","v":9.29},{"d":"2017-03-17","s":"2017","v":5.88},{"d":"2017-03-20","s":"2017","v":7.8},{"d":"2017-03-23","s":"2017","v":6.69},{"d":"2017-03-26","s":"2017","v":7.0},{"d":"2017-04-01","s":"2017","v":8.18},{"d":"2017-04-04","s":"2017","v":6.56},{"d":"2017-04-10","s":"2017","v":7.49},{"d":"2017-04-13","s":"2017","v":6.63},{"d":"2017-04-19","s":"2017","v":8.36},{"d":"2017-04-22","s":"2017","v":6.56},{"d":"2017-04-25","s":"2017","v":7.99},{"d":"2017-04-28","s":"2017","v":7.18},{"d":"2017-05-04","s":"2017","v":6.32},{"d":"2017-05-07","s":"2017","v":7.87},{"d":"2017-05-12","s":"2017","v":6.87},{"d":"2017-05-15","s":"2017","v":6.56},{"d":"2017-05-20","s":"2017","v":7.68},{"d":"2017-05-24","s":"2017","v":6.5},{"d":"2017-05-28","s":"2017","v":6.75},{"d":"2017-06-02","s":"2017","v":7.06},{"d":"2017-06-05","s":"2017","v":6.69},{"d":"2017-06-09","s":"2017","v":7.06},{"d":"2017-06-13","s":"2017","v":7.62},{"d":"2017-06-17","s":"2017","v":6.75},{"d":"2017-06-21","s":"2017","v":7.49},{"d":"2017-06-25","s":"2017","v":6.5},{"d":"2017-06-28","s":"2017","v":7.31},{"d":"2017-07-01","s":"2017","v":7.06},{"d":"2017-07-04","s":"2017","v":6.63},{"d":"2017-07-09","s":"2017","v":7.43},{"d":"2017-07-13","s":"2017","v":6.69},{"d":"2017-07-16","s":"2017","v":7.37},{"d":"2017-07-20","s":"2017","v":6.63},{"d":"2017-07-24","s":"2017","v":7.31},{"d":"2017-07-27","s":"2017","v":7.18},{"d":"2017-07-30","s":"2017","v":6.69},{"d":"2017-08-02","s":"2017","v":7.18},{"d":"2017-08-08","s":"2017","v":7.0},{"d":"2017-08-13","s":"2017","v":7.25},{"d":"2017-08-17","s":"2017","v":6.75},{"d":"2017-08-20","s":"2017","v":6.56},{"d":"2017-08-23","s":"2017","v":7.0},{"d":"2017-08-26","s":"2017","v":7.37},{"d":"2017-08-30","s":"2017","v":6.75},{"d":"2017-09-02","s":"2017","v":6.81},{"d":"2017-09-08","s":"2017","v":null},{"d":"2017-09-15","s":"2017","v":6.26},{"d":"2017-09-18","s":"2017","v":6.66},{"d":"2017-09-21","s":"2017","v":6.01},{"d":"2017-09-27","s":"2017","v":5.33},{"d":"2017-09-30","s":"2017","v":6.69},{"d":"2017-10-03","s":"2017","v":5.33},{"d":"2017-10-06","s":"2017","v":5.57},{"d":"2017-10-09","s":"2017","v":6.13},{"d":"2017-10-12","s":"2017","v":6.44},{"d":"2017-10-15","s":"2017","v":5.45},{"d":"2017-10-18","s":"2017","v":6.19},{"d":"2017-10-21","s":"2017","v":5.39},{"d":"2017-10-24","s":"2017","v":5.26},{"d":"2017-10-27","s":"2017","v":5.82},{"d":"2017-10-29","s":"2017","v":7.18},{"d":"2017-11-01","s":"2017","v":7.21},{"d":"2017-11-04","s":"2017","v":5.33},{"d":"2017-11-07","s":"2017","v":6.87},{"d":"2017-11-10","s":"2017","v":5.95},{"d":"2017-11-13","s":"2017","v":6.87},{"d":"2017-11-16","s":"2017","v":5.39},{"d":"2017-11-19","s":"2017","v":5.14},{"d":"2017-11-22","s":"2017","v":6.63},{"d":"2017-11-25","s":"2017","v":7.12},{"d":"2017-11-28","s":"2017","v":5.57},{"d":"2017-12-01","s":"2017","v":5.95},{"d":"2017-12-04","s":"2017","v":6.75},{"d":"2017-12-07","s":"2017","v":5.82},{"d":"2017-12-10","s":"2017","v":7.03},{"d":"2017-12-13","s":"2017","v":5.95},{"d":"2017-12-16","s":"2017","v":6.44},{"d":"2017-12-19","s":"2017","v":6.07},{"d":"2017-12-21","s":"2017","v":7.0},{"d":"2017-12-24","s":"2017","v":6.19},{"d":"2017-12-26","s":"2017","v":5.95},{"d":"2017-12-29","s":"2017","v":6.13},
{"d":"2018-01-01","s":"2018","v":6.1},{"d":"2018-01-05","s":"2018","v":5.95},{"d":"2018-01-09","s":"2018","v":5.88},{"d":"2018-01-12","s":"2018","v":6.75},{"d":"2018-01-16","s":"2018","v":6.32},{"d":"2018-01-21","s":"2018","v":7.25},{"d":"2018-01-25","s":"2018","v":6.75},{"d":"2018-01-28","s":"2018","v":6.56},{"d":"2018-02-01","s":"2018","v":6.26},{"d":"2018-02-06","s":"2018","v":6.63},{"d":"2018-02-12","s":"2018","v":6.56},{"d":"2018-02-15","s":"2018","v":7.31},{"d":"2018-02-19","s":"2018","v":7.31},{"d":"2018-02-22","s":"2018","v":6.38},{"d":"2018-02-26","s":"2018","v":6.38},{"d":"2018-03-03","s":"2018","v":7.06},{"d":"2018-03-06","s":"2018","v":9.23},{"d":"2018-03-10","s":"2018","v":9.23},{"d":"2018-03-13","s":"2018","v":6.75},{"d":"2018-03-16","s":"2018","v":8.11},{"d":"2018-03-19","s":"2018","v":6.94},{"d":"2018-03-22","s":"2018","v":8.55},{"d":"2018-03-25","s":"2018","v":7.18},{"d":"2018-03-28","s":"2018","v":7.99},{"d":"2018-03-31","s":"2018","v":7.49},{"d":"2018-04-03","s":"2018","v":6.38},{"d":"2018-04-06","s":"2018","v":6.69},{"d":"2018-04-12","s":"2018","v":6.38},{"d":"2018-04-18","s":"2018","v":6.97},{"d":"2018-04-21","s":"2018","v":6.44},{"d":"2018-04-23","s":"2018","v":6.94},{"d":"2018-04-28","s":"2018","v":6.07},{"d":"2018-05-02","s":"2018","v":6.5},{"d":"2018-05-05","s":"2018","v":7.15},{"d":"2018-05-08","s":"2018","v":6.44},{"d":"2018-05-11","s":"2018","v":5.95},{"d":"2018-05-17","s":"2018","v":6.94},{"d":"2018-05-22","s":"2018","v":5.88},{"d":"2018-05-26","s":"2018","v":5.7},{"d":"2018-06-01","s":"2018","v":5.88},{"d":"2018-06-07","s":"2018","v":5.76},{"d":"2018-06-13","s":"2018","v":5.64},{"d":"2018-06-18","s":"2018","v":5.57},{"d":"2018-06-24","s":"2018","v":6.01},{"d":"2018-06-27","s":"2018","v":5.54},{"d":"2018-07-03","s":"2018","v":6.04},{"d":"2018-07-09","s":"2018","v":5.95},{"d":"2018-07-15","s":"2018","v":5.51},{"d":"2018-07-21","s":"2018","v":6.26},{"d":"2018-07-24","s":"2018","v":5.64},{"d":"2018-07-28","s":"2018","v":6.32},{"d":"2018-08-01","s":"2018","v":6.01},{"d":"2018-08-04","s":"2018","v":5.6},{"d":"2018-08-12","s":"2018","v":6.69},{"d":"2018-08-16","s":"2018","v":5.64},{"d":"2018-08-22","s":"2018","v":6.07},{"d":"2018-08-31","s":"2018","v":5.82},{"d":"2018-09-05","s":"2018","v":6.32},{"d":"2018-09-08","s":"2018","v":5.51},{"d":"2018-09-11","s":"2018","v":6.69},{"d":"2018-09-14","s":"2018","v":5.95},{"d":"2018-09-20","s":"2018","v":5.95},{"d":"2018-09-24","s":"2018","v":6.63},{"d":"2018-09-28","s":"2018","v":5.26},{"d":"2018-10-02","s":"2018","v":6.1},{"d":"2018-10-08","s":"2018","v":6.13},{"d":"2018-10-12","s":"2018","v":6.19},{"d":"2018-10-16","s":"2018","v":5.88},{"d":"2018-10-22","s":"2018","v":5.7},{"d":"2018-10-25","s":"2018","v":6.41},{"d":"2018-10-28","s":"2018","v":6.07},{"d":"2018-11-03","s":"2018","v":5.95},{"d":"2018-11-08","s":"2018","v":7.06},{"d":"2018-11-11","s":"2018","v":7.43},{"d":"2018-11-14","s":"2018","v":6.9},{"d":"2018-11-18","s":"2018","v":7.43},{"d":"2018-11-21","s":"2018","v":6.95},{"d":"2018-11-24","s":"2018","v":7.46},{"d":"2018-11-30","s":"2018","v":7.18},{"d":"2018-12-05","s":"2018","v":7.12},{"d":"2018-12-08","s":"2018","v":6.38},{"d":"2018-12-11","s":"2018","v":5.95},{"d":"2018-12-15","s":"2018","v":5.26},{"d":"2018-12-20","s":"2018","v":4.95},{"d":"2018-12-23","s":"2018","v":6.56},{"d":"2018-12-27","s":"2018","v":5.95},
{"d":"2019-01-01","s":"2019","v":6.44},{"d":"2019-01-02","s":"2019","v":5.39},{"d":"2019-01-04","s":"2019","v":6.19},{"d":"2019-01-08","s":"2019","v":5.82},{"d":"2019-01-13","s":"2019","v":6.07},{"d":"2019-01-16","s":"2019","v":5.08},{"d":"2019-01-20","s":"2019","v":6.56},{"d":"2019-01-23","s":"2019","v":5.82},{"d":"2019-01-26","s":"2019","v":6.81},{"d":"2019-01-30","s":"2019","v":6.26},{"d":"2019-02-04","s":"2019","v":7.0},{"d":"2019-02-08","s":"2019","v":5.95},{"d":"2019-02-11","s":"2019","v":7.62},{"d":"2019-02-16","s":"2019","v":6.44},{"d":"2019-02-20","s":"2019","v":5.64},{"d":"2019-02-23","s":"2019","v":8.36},{"d":"2019-02-26","s":"2019","v":5.14},{"d":"2019-03-01","s":"2019","v":6.56},{"d":"2019-03-05","s":"2019","v":5.95},{"d":"2019-03-09","s":"2019","v":6.63},{"d":"2019-03-12","s":"2019","v":6.07},{"d":"2019-03-18","s":"2019","v":6.44},{"d":"2019-03-21","s":"2019","v":4.98},{"d":"2019-03-24","s":"2019","v":5.95},{"d":"2019-03-29","s":"2019","v":6.56},{"d":"2019-04-02","s":"2019","v":5.33},{"d":"2019-04-05","s":"2019","v":8.55},{"d":"2019-04-08","s":"2019","v":5.2},{"d":"2019-04-12","s":"2019","v":5.95},{"d":"2019-04-16","s":"2019","v":5.57},{"d":"2019-04-19","s":"2019","v":6.32},{"d":"2019-04-23","s":"2019","v":5.88},{"d":"2019-04-28","s":"2019","v":5.95},{"d":"2019-05-01","s":"2019","v":6.63},{"d":"2019-05-04","s":"2019","v":6.01},{"d":"2019-05-08","s":"2019","v":6.32},{"d":"2019-05-13","s":"2019","v":6.07},{"d":"2019-05-19","s":"2019","v":6.19},{"d":"2019-05-25","s":"2019","v":6.63},{"d":"2019-05-28","s":"2019","v":5.95},{"d":"2019-06-02","s":"2019","v":6.01},{"d":"2019-06-08","s":"2019","v":5.82},{"d":"2019-06-12","s":"2019","v":5.95},{"d":"2019-06-14","s":"2019","v":8.39},{"d":"2019-06-18","s":"2019","v":5.95},{"d":"2019-06-23","s":"2019","v":7.87},{"d":"2019-06-26","s":"2019","v":5.88},{"d":"2019-06-29","s":"2019","v":7.06},{"d":"2019-07-02","s":"2019","v":5.76},{"d":"2019-07-07","s":"2019","v":6.07},{"d":"2019-07-13","s":"2019","v":5.95},{"d":"2019-07-19","s":"2019","v":5.82},{"d":"2019-07-22","s":"2019","v":6.19},{"d":"2019-07-28","s":"2019","v":6.01},{"d":"2019-07-31","s":"2019","v":5.76},{"d":"2019-08-06","s":"2019","v":6.01},{"d":"2019-08-12","s":"2019","v":6.07},{"d":"2019-08-15","s":"2019","v":5.7},{"d":"2019-08-18","s":"2019","v":7.46},{"d":"2019-08-21","s":"2019","v":5.57},{"d":"2019-08-27","s":"2019","v":5.82},{"d":"2019-09-02","s":"2019","v":6.19},{"d":"2019-09-05","s":"2019","v":5.95},{"d":"2019-09-07","s":"2019","v":6.29},{"d":"2019-09-12","s":"2019","v":5.7},{"d":"2019-09-16","s":"2019","v":5.39},{"d":"2019-09-22","s":"2019","v":5.3},{"d":"2019-09-28","s":"2019","v":6.32},{"d":"2019-10-02","s":"2019","v":5.2},{"d":"2019-10-10","s":"2019","v":5.2},{"d":"2019-10-16","s":"2019","v":5.57},{"d":"2019-10-21","s":"2019","v":6.19},{"d":"2019-10-25","s":"2019","v":5.17},{"d":"2019-10-30","s":"2019","v":6.26},{"d":"2019-11-04","s":"2019","v":5.82},{"d":"2019-11-08","s":"2019","v":6.38},{"d":"2019-11-12","s":"2019","v":6.63},{"d":"2019-11-17","s":"2019","v":5.7},{"d":"2019-11-20","s":"2019","v":6.66},{"d":"2019-11-23","s":"2019","v":5.64},{"d":"2019-11-26","s":"2019","v":4.89},{"d":"2019-11-29","s":"2019","v":6.07},{"d":"2019-12-03","s":"2019","v":6.44},{"d":"2019-12-07","s":"2019","v":6.87},{"d":"2019-12-10","s":"2019","v":7.31},{"d":"2019-12-15","s":"2019","v":6.69},{"d":"2019-12-19","s":"2019","v":7.43},{"d":"2019-12-23","s":"2019","v":7.0},{"d":"2019-12-28","s":"2019","v":6.94},
{"d":"2020-01-01","s":"2020","v":6.19},{"d":"2020-01-04","s":"2020","v":6.01},{"d":"2020-01-07","s":"2020","v":7.4},{"d":"2020-01-11","s":"2020","v":6.69},{"d":"2020-01-14","s":"2020","v":5.95},{"d":"2020-01-17","s":"2020","v":7.06},{"d":"2020-01-20","s":"2020","v":5.82},{"d":"2020-01-23","s":"2020","v":6.75},{"d":"2020-01-26","s":"2020","v":6.19},{"d":"2020-01-29","s":"2020","v":5.7},{"d":"2020-02-01","s":"2020","v":5.95},{"d":"2020-02-04","s":"2020","v":7.06},{"d":"2020-02-07","s":"2020","v":4.95},{"d":"2020-02-08","s":"2020","v":4.02},{"d":"2020-02-10","s":"2020","v":4.95},{"d":"2020-02-12","s":"2020","v":7.25},{"d":"2020-02-14","s":"2020","v":5.45},{"d":"2020-02-17","s":"2020","v":6.38},{"d":"2020-02-21","s":"2020","v":5.95},{"d":"2020-02-24","s":"2020","v":6.32},{"d":"2020-02-27","s":"2020","v":4.89},{"d":"2020-03-01","s":"2020","v":5.08},{"d":"2020-03-02","s":"2020","v":7.87},{"d":"2020-03-05","s":"2020","v":8.18},{"d":"2020-03-09","s":"2020","v":7.18},{"d":"2020-03-12","s":"2020","v":8.92},{"d":"2020-03-15","s":"2020","v":8.11},{"d":"2020-03-17","s":"2020","v":8.61},{"d":"2020-03-18","s":"2020","v":7.68},{"d":"2020-04-20","s":"2020","v":null},{"d":"2020-06-08","s":"2020","v":7.25},{"d":"2020-06-12","s":"2020","v":7.0},{"d":"2020-06-18","s":"2020","v":7.18},{"d":"2020-06-24","s":"2020","v":6.94},{"d":"2020-06-30","s":"2020","v":7.31},{"d":"2020-07-03","s":"2020","v":6.94},{"d":"2020-07-08","s":"2020","v":6.81},{"d":"2020-07-13","s":"2020","v":6.75},{"d":"2020-07-17","s":"2020","v":6.66},{"d":"2020-07-23","s":"2020","v":6.63},{"d":"2020-07-29","s":"2020","v":6.53},{"d":"2020-08-07","s":"2020","v":6.63},{"d":"2020-08-10","s":"2020","v":5.39},{"d":"2020-08-13","s":"2020","v":6.01},{"d":"2020-08-17","s":"2020","v":5.39},{"d":"2020-08-22","s":"2020","v":5.3},{"d":"2020-08-28","s":"2020","v":5.7},{"d":"2020-08-31","s":"2020","v":5.45},{"d":"2020-09-05","s":"2020","v":5.39},{"d":"2020-09-11","s":"2020","v":5.33},{"d":"2020-09-17","s":"2020","v":5.26},{"d":"2020-09-23","s":"2020","v":5.23},{"d":"2020-09-29","s":"2020","v":5.2},{"d":"2020-09-30","s":"2020","v":6.13},{"d":"2020-10-03","s":"2020","v":5.2},{"d":"2020-10-07","s":"2020","v":5.26},{"d":"2020-10-10","s":"2020","v":6.01},{"d":"2020-10-15","s":"2020","v":5.26},{"d":"2020-10-17","s":"2020","v":6.63},{"d":"2020-10-22","s":"2020","v":6.32},{"d":"2020-10-25","s":"2020","v":5.7},{"d":"2020-11-01","s":"2020","v":7.37},{"d":"2020-11-04","s":"2020","v":5.95},{"d":"2020-11-06","s":"2020","v":5.45},{"d":"2020-11-09","s":"2020","v":7.0},{"d":"2020-11-13","s":"2020","v":6.44},{"d":"2020-11-16","s":"2020","v":5.76},{"d":"2020-11-19","s":"2020","v":7.18},{"d":"2020-11-23","s":"2020","v":6.07},{"d":"2020-11-28","s":"2020","v":6.44},{"d":"2020-12-02","s":"2020","v":6.75},{"d":"2020-12-05","s":"2020","v":8.98},{"d":"2020-12-07","s":"2020","v":7.8},{"d":"2020-12-10","s":"2020","v":6.56},{"d":"2020-12-13","s":"2020","v":6.07},{"d":"2020-12-17","s":"2020","v":5.82},{"d":"2020-12-21","s":"2020","v":5.57},{"d":"2020-12-24","s":"2020","v":6.26},{"d":"2020-12-27","s":"2020","v":5.82},{"d":"2020-12-30","s":"2020","v":5.7},
{"d":"2021-01-01","s":"2021","v":5.76},{"d":"2021-01-06","s":"2021","v":5.82},{"d":"2021-01-12","s":"2021","v":5.7},{"d":"2021-01-15","s":"2021","v":6.5},{"d":"2021-01-18","s":"2021","v":5.45},{"d":"2021-01-23","s":"2021","v":6.07},{"d":"2021-01-25","s":"2021","v":5.7},{"d":"2021-01-30","s":"2021","v":5.95},{"d":"2021-02-03","s":"2021","v":6.38},{"d":"2021-02-05","s":"2021","v":5.45},{"d":"2021-02-09","s":"2021","v":5.88},{"d":"2021-02-13","s":"2021","v":6.6},{"d":"2021-02-18","s":"2021","v":5.95},{"d":"2021-02-22","s":"2021","v":5.7},{"d":"2021-02-28","s":"2021","v":5.88},{"d":"2021-03-06","s":"2021","v":5.82},{"d":"2021-03-12","s":"2021","v":5.7},{"d":"2021-03-18","s":"2021","v":5.57},{"d":"2021-03-24","s":"2021","v":5.76},{"d":"2021-03-30","s":"2021","v":5.45},{"d":"2021-04-04","s":"2021","v":5.76},{"d":"2021-04-10","s":"2021","v":5.95},{"d":"2021-04-15","s":"2021","v":7.18},{"d":"2021-04-17","s":"2021","v":5.45},{"d":"2021-04-22","s":"2021","v":5.95},{"d":"2021-04-27","s":"2021","v":5.7},{"d":"2021-05-01","s":"2021","v":5.33},{"d":"2021-05-04","s":"2021","v":6.01},{"d":"2021-05-10","s":"2021","v":6.13},{"d":"2021-05-12","s":"2021","v":5.64},{"d":"2021-05-15","s":"2021","v":5.95},{"d":"2021-05-21","s":"2021","v":5.82},{"d":"2021-05-26","s":"2021","v":6.94},{"d":"2021-05-30","s":"2021","v":5.39},{"d":"2021-06-05","s":"2021","v":5.95},{"d":"2021-06-11","s":"2021","v":5.7},{"d":"2021-06-17","s":"2021","v":5.2},{"d":"2021-06-20","s":"2021","v":6.38},{"d":"2021-06-22","s":"2021","v":5.82},{"d":"2021-06-26","s":"2021","v":5.08},{"d":"2021-06-30","s":"2021","v":6.56},{"d":"2021-07-04","s":"2021","v":6.75},{"d":"2021-07-07","s":"2021","v":6.19},{"d":"2021-07-10","s":"2021","v":6.69},{"d":"2021-07-13","s":"2021","v":5.64},{"d":"2021-07-16","s":"2021","v":5.45},{"d":"2021-07-19","s":"2021","v":5.7},{"d":"2021-07-22","s":"2021","v":6.01},{"d":"2021-07-28","s":"2021","v":5.45},{"d":"2021-07-31","s":"2021","v":6.19},{"d":"2021-08-05","s":"2021","v":6.5},{"d":"2021-08-09","s":"2021","v":6.01},{"d":"2021-08-11","s":"2021","v":5.39},{"d":"2021-08-14","s":"2021","v":6.5},{"d":"2021-08-18","s":"2021","v":5.76},{"d":"2021-08-22","s":"2021","v":7.12},{"d":"2021-08-24","s":"2021","v":5.95},{"d":"2021-08-28","s":"2021","v":7.0},{"d":"2021-09-01","s":"2021","v":6.19},{"d":"2021-09-05","s":"2021","v":5.95},{"d":"2021-09-09","s":"2021","v":7.37},{"d":"2021-09-11","s":"2021","v":6.63},{"d":"2021-09-16","s":"2021","v":5.95},{"d":"2021-09-20","s":"2021","v":6.5},{"d":"2021-09-24","s":"2021","v":5.64},{"d":"2021-09-27","s":"2021","v":6.26},{"d":"2021-09-30","s":"2021","v":5.95},{"d":"2021-10-04","s":"2021","v":6.94},{"d":"2021-10-08","s":"2021","v":5.64},{"d":"2021-10-12","s":"2021","v":5.95},{"d":"2021-10-16","s":"2021","v":6.32},{"d":"2021-10-21","s":"2021","v":6.75},{"d":"2021-10-26","s":"2021","v":5.57},{"d":"2021-10-30","s":"2021","v":7.15},{"d":"2021-11-02","s":"2021","v":6.19},{"d":"2021-11-05","s":"2021","v":6.94},{"d":"2021-11-09","s":"2021","v":6.69},{"d":"2021-11-13","s":"2021","v":5.95},{"d":"2021-11-16","s":"2021","v":6.19},{"d":"2021-11-19","s":"2021","v":5.39},{"d":"2021-11-22","s":"2021","v":7.49},{"d":"2021-11-25","s":"2021","v":5.33},{"d":"2021-12-01","s":"2021","v":5.95},{"d":"2021-12-04","s":"2021","v":5.39},{"d":"2021-12-07","s":"2021","v":5.08},{"d":"2021-12-10","s":"2021","v":6.5},{"d":"2021-12-13","s":"2021","v":5.51},{"d":"2021-12-16","s":"2021","v":5.82},{"d":"2021-12-22","s":"2021","v":5.88},{"d":"2021-12-27","s":"2021","v":5.88},
{"d":"2022-01-01","s":"2022","v":5.7},{"d":"2022-01-05","s":"2022","v":5.82},{"d":"2022-01-08","s":"2022","v":6.32},{"d":"2022-01-11","s":"2022","v":5.7},{"d":"2022-01-17","s":"2022","v":5.82},{"d":"2022-01-20","s":"2022","v":5.64},{"d":"2022-01-23","s":"2022","v":6.13},{"d":"2022-01-29","s":"2022","v":6.1},{"d":"2022-02-02","s":"2022","v":5.64},{"d":"2022-02-05","s":"2022","v":6.32},{"d":"2022-02-09","s":"2022","v":6.19},{"d":"2022-02-15","s":"2022","v":6.29},{"d":"2022-02-21","s":"2022","v":6.38},{"d":"2022-02-27","s":"2022","v":6.5},{"d":"2022-03-05","s":"2022","v":6.32},{"d":"2022-03-11","s":"2022","v":6.41},{"d":"2022-03-17","s":"2022","v":6.29},{"d":"2022-03-23","s":"2022","v":6.07},{"d":"2022-03-29","s":"2022","v":6.26},{"d":"2022-04-03","s":"2022","v":6.19},{"d":"2022-04-06","s":"2022","v":5.95},{"d":"2022-04-10","s":"2022","v":6.63},{"d":"2022-04-14","s":"2022","v":5.95},{"d":"2022-04-21","s":"2022","v":5.95},{"d":"2022-04-24","s":"2022","v":6.44},{"d":"2022-04-27","s":"2022","v":7.87},{"d":"2022-04-30","s":"2022","v":6.13},{"d":"2022-05-05","s":"2022","v":6.78},{"d":"2022-05-11","s":"2022","v":6.07},{"d":"2022-05-15","s":"2022","v":6.63},{"d":"2022-05-20","s":"2022","v":6.07},{"d":"2022-05-25","s":"2022","v":5.76},{"d":"2022-05-29","s":"2022","v":6.07},{"d":"2022-06-04","s":"2022","v":5.95},{"d":"2022-06-08","s":"2022","v":6.16},{"d":"2022-06-13","s":"2022","v":5.88},{"d":"2022-06-18","s":"2022","v":5.76},{"d":"2022-06-24","s":"2022","v":5.7},{"d":"2022-06-30","s":"2022","v":5.57},{"d":"2022-07-06","s":"2022","v":5.45},{"d":"2022-07-09","s":"2022","v":5.39},{"d":"2022-07-13","s":"2022","v":7.34},{"d":"2022-07-15","s":"2022","v":5.45},{"d":"2022-07-21","s":"2022","v":5.33},{"d":"2022-07-27","s":"2022","v":5.57},{"d":"2022-08-02","s":"2022","v":5.45},{"d":"2022-08-07","s":"2022","v":5.26},{"d":"2022-08-13","s":"2022","v":5.14},{"d":"2022-08-16","s":"2022","v":5.2},{"d":"2022-08-21","s":"2022","v":7.18},{"d":"2022-08-24","s":"2022","v":5.08},{"d":"2022-08-27","s":"2022","v":5.2},{"d":"2022-08-31","s":"2022","v":7.06},{"d":"2022-09-04","s":"2022","v":5.14},{"d":"2022-09-09","s":"2022","v":4.95},{"d":"2022-09-15","s":"2022","v":5.08},{"d":"2022-09-18","s":"2022","v":4.8},{"d":"2022-09-22","s":"2022","v":5.64},{"d":"2022-09-26","s":"2022","v":5.08},{"d":"2022-10-01","s":"2022","v":4.98},{"d":"2022-10-05","s":"2022","v":5.7},{"d":"2022-10-09","s":"2022","v":5.95},{"d":"2022-10-13","s":"2022","v":5.51},{"d":"2022-10-18","s":"2022","v":5.88},{"d":"2022-10-21","s":"2022","v":5.33},{"d":"2022-10-24","s":"2022","v":6.07},{"d":"2022-10-28","s":"2022","v":5.7},{"d":"2022-11-02","s":"2022","v":6.26},{"d":"2022-11-05","s":"2022","v":5.7},{"d":"2022-11-08","s":"2022","v":6.29},{"d":"2022-11-12","s":"2022","v":4.8},{"d":"2022-11-15","s":"2022","v":5.95},{"d":"2022-11-19","s":"2022","v":5.33},{"d":"2022-11-24","s":"2022","v":6.01},{"d":"2022-11-29","s":"2022","v":5.95},{"d":"2022-12-03","s":"2022","v":6.1},{"d":"2022-12-07","s":"2022","v":6.63},{"d":"2022-12-10","s":"2022","v":6.32},{"d":"2022-12-14","s":"2022","v":7.52},{"d":"2022-12-17","s":"2022","v":6.56},{"d":"2022-12-20","s":"2022","v":6.07},{"d":"2022-12-23","s":"2022","v":7.08},{"d":"2022-12-25","s":"2022","v":5.57},{"d":"2022-12-28","s":"2022","v":6.56},
{"d":"2023-01-01","s":"2023","v":6.4},{"d":"2023-01-04","s":"2023","v":6.56},{"d":"2023-01-07","s":"2023","v":6.6},{"d":"2023-01-09","s":"2023","v":6.45},{"d":"2023-01-11","s":"2023","v":6.34}
],
"box":[{"d":"2019-11-27","d2":"2023-01-26","v":10.17,"v2":9.45}],
"arrow":[{"d":"2023-01-14","d2":"2023-01-21","v":9.45,"v2":6.8}],
"head":[{"d":"2023-01-22","v":6.58}],
"label":[{"d":"2022-05-23","v":9.82}]
},
"encoding":{"x":{"field":"d","type":"temporal",
"scale":{"type":"utc","domain":[{"year":2013,"month":8,"date":19,"utc":true},{"year":2023,"month":2,"date":2,"hours":12,"utc":true}]},
"axis":{"values":[{"year":2013,"month":8,"date":19,"utc":true},{"year":2014,"month":8,"date":19,"utc":true},{"year":2015,"month":8,"date":19,"utc":true},{"year":2016,"month":8,"date":18,"utc":true},{"year":2017,"month":8,"date":18,"utc":true},{"year":2018,"month":8,"date":18,"utc":true},{"year":2019,"month":8,"date":18,"utc":true},{"year":2020,"month":8,"date":17,"utc":true},{"year":2021,"month":8,"date":17,"utc":true},{"year":2022,"month":8,"date":17,"utc":true}],
"format":"%-m/%-d/%y","labelAngle":45,"labelAlign":"left","labelBaseline":"top","labelFontSize":22,"labelColor":"black","labelPadding":17,"ticks":false,"labelOverlap":false,"labelFlush":false,"labelBound":false,
"grid":true,"gridColor":"#404040","gridWidth":1.3,"domainColor":"#808080","domainWidth":1.5,
"title":"Date","titleFontSize":22,"titleColor":"black","titleY":121,"titleBaseline":"middle"}}},
"layer":[
{"data":{"name":"rain"},"mark":{"type":"rule"},
"encoding":{
"y":{"field":"r","type":"quantitative","scale":{"domain":[0,10],"nice":false,"zero":true},
"axis":{"orient":"left","values":[0,1,2,3,4,5,6,7,8,9,10],"format":".2f","labelColor":"#FF00FF","labelFontSize":22,"labelPadding":16,"tickSize":8,"tickColor":"#404040","tickWidth":1.3,"domainColor":"#808080","domainWidth":1.5,"grid":true,"gridColor":"#404040","gridWidth":1.3,
"title":"Rainfall (Inches)","titleColor":"#FF00FF","titleFontSize":22,"titleAngle":270,"titleX":-157,"titleY":463,"titleAlign":"center","titleBaseline":"middle"}},
"y2":{"datum":0},
"color":{"datum":"Rainfall","type":"nominal","scale":{"domain":["Rainfall","2013","2014","2015","2016","2017","2018","2019","2020","2021","2022","2023"],"range":["#FF00FF","#77933C","#4F81BD","#FF0000","#0000FF","#00B050","#4F81BD","#C0504D","#9BBB59","#8064A2","#4BACC6","#F79646"]},
"legend":{"orient":"none","legendX":128,"legendY":987.5,"direction":"horizontal","title":null}},
"strokeWidth":{"datum":"Rainfall","type":"nominal","scale":{"type":"ordinal","domain":["Rainfall","2013","2014","2015","2016","2017","2018","2019","2020","2021","2022","2023"],"range":[2,7,7,7,7,7,7,7,7,7,7,7]},
"legend":{"orient":"none","legendX":128,"legendY":987.5,"direction":"horizontal","title":null}}}},
{"data":{"name":"gw"},"mark":{"type":"line","strokeCap":"round","strokeJoin":"round","invalid":"break-paths-filter-domains"},
"encoding":{
"y":{"field":"v","type":"quantitative","scale":{"domain":[0,10],"nice":false,"zero":true},
"axis":{"orient":"right","values":[0,1,2,3,4,5,6,7,8,9,10],"format":".2f","labelColor":"#0000FF","labelFontSize":22,"labelPadding":17,"tickSize":8,"tickColor":"#8c8c8c","tickWidth":1.3,"domainColor":"#8c8c8c","domainWidth":1.5,"grid":false,
"title":"Groundwater Elevation (Feet, BCB)","titleColor":"#0000FF","titleFontSize":22,"titleAngle":270,"titleX":141,"titleY":445,"titleAlign":"center","titleBaseline":"middle"}},
"color":{"field":"s","type":"nominal","scale":{"domain":["Rainfall","2013","2014","2015","2016","2017","2018","2019","2020","2021","2022","2023"],"range":["#FF00FF","#77933C","#4F81BD","#FF0000","#0000FF","#00B050","#4F81BD","#C0504D","#9BBB59","#8064A2","#4BACC6","#F79646"]},
"legend":{"orient":"none","legendX":128,"legendY":987.5,"direction":"horizontal","title":null}},
"strokeWidth":{"field":"s","type":"nominal","scale":{"type":"ordinal","domain":["Rainfall","2013","2014","2015","2016","2017","2018","2019","2020","2021","2022","2023"],"range":[2,7,7,7,7,7,7,7,7,7,7,7]},
"legend":{"orient":"none","legendX":128,"legendY":987.5,"direction":"horizontal","title":null}}}},
{"data":{"name":"arrow"},"mark":{"type":"rule","color":"black","strokeWidth":7,"clip":false},
"encoding":{"x2":{"field":"d2"},"y":{"field":"v","type":"quantitative","scale":{"domain":[0,10],"nice":false},"axis":null},"y2":{"field":"v2"}}},
{"data":{"name":"head"},"mark":{"type":"point","shape":"M -0.24 -1 L 0.24 -1 L 0 1 Z","size":1900,"filled":true,"color":"black","opacity":1,"clip":false},
"encoding":{"y":{"field":"v","type":"quantitative","scale":{"domain":[0,10],"nice":false},"axis":null}}},
{"data":{"name":"box"},"mark":{"type":"rect","fill":"white","stroke":"black","strokeWidth":2,"clip":false},
"encoding":{"x2":{"field":"d2"},"y":{"field":"v","type":"quantitative","scale":{"domain":[0,10],"nice":false},"axis":null},"y2":{"field":"v2"}}},
{"data":{"name":"label"},"mark":{"type":"text","text":"Elevation on 1/11/23 =","align":"right","baseline":"middle","dx":-6,"font":"DejaVu Serif","fontWeight":"bold","fontSize":36,"color":"black","clip":false},
"encoding":{"y":{"field":"v","type":"quantitative","scale":{"domain":[0,10],"nice":false},"axis":null}}},
{"data":{"name":"label"},"mark":{"type":"text","text":"6.34'","align":"left","baseline":"middle","dx":8,"font":"DejaVu Serif","fontWeight":"bold","fontSize":36,"color":"#FF0000","clip":false},
"encoding":{"y":{"field":"v","type":"quantitative","scale":{"domain":[0,10],"nice":false},"axis":null}}}
],
"resolve":{"axis":{"y":"independent"}}
}
